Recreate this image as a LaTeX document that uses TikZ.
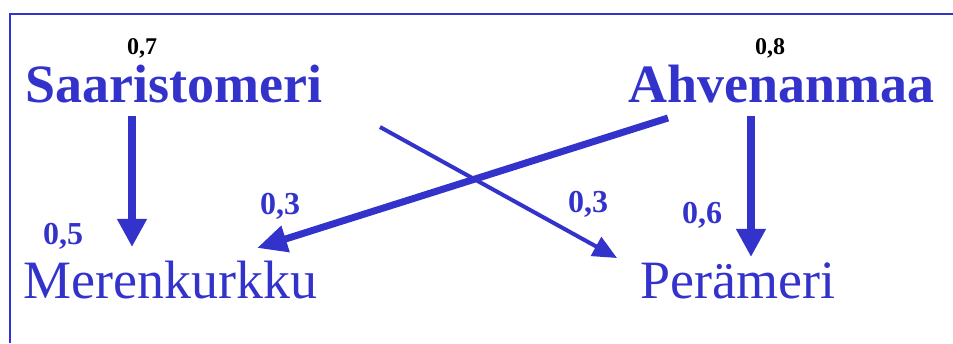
\documentclass[tikz,border=0pt]{standalone}
\usepackage{fontspec}
\setmainfont{Liberation Serif}
\usetikzlibrary{arrows.meta,calc}
\definecolor{seablue}{RGB}{51,51,204}
\tikzset{
  place/.style={inner sep=0pt, anchor=base west, text=seablue},
  bigname/.style={place, font=\fontsize{54}{60}\selectfont\bfseries},
  smallname/.style={place, font=\fontsize{54}{60}\selectfont},
  toplabel/.style={inner sep=0pt, font=\fontsize{24}{28}\selectfont\bfseries, text=black},
  flowlabel/.style={inner sep=0pt, font=\fontsize{32}{36}\selectfont\bfseries, text=seablue},
  thickflow/.style={draw=seablue, line width=8pt, -{Triangle[length=28pt,width=28pt]}, fill=seablue},
  midflow/.style={draw=seablue, line width=7pt, -{Triangle[length=30pt,width=26pt]}, fill=seablue},
  thinflow/.style={draw=seablue, line width=4pt, -{Triangle[length=24pt,width=21pt]}, fill=seablue},
  frameline/.style={draw=seablue, line width=2pt}
}
\begin{document}
\begin{tikzpicture}[x=1pt,y=1pt]
\useasboundingbox (0,0) rectangle (953,343);
\draw[frameline] (10,0) -- (10,329) -- (953,329);

\node[bigname] (saar) at (25,240) {Saaristomeri};
\node[bigname] (ahv) at (628,240) {Ahvenanmaa};
\node[smallname] (mer) at (23,45) {Merenkurkku};
\node[smallname] (per) at (640,45) {Perämeri};

\node[toplabel] (l07) at (142,295) {0,7};
\node[toplabel] (l08) at (770,295) {0,8};
\node[flowlabel] (l05) at (63,107) {0,5};
\node[flowlabel] (l03a) at (280,137) {0,3};
\node[flowlabel] (l03b) at (588,139) {0,3};
\node[flowlabel] (l06) at (702,128) {0,6};

\draw[thickflow] ($(saar.base west)+(107,-13)$) -- ($(mer.base west)+(109,51)$);
\draw[thickflow] ($(ahv.base west)+(123,-13)$) -- ($(per.base west)+(111,41)$);
\draw[midflow] ($(ahv.base west)+(40,-15)$) -- ($(mer.base west)+(234,50)$);
\draw[thinflow] ($(saar.base west)+(355,-24)$) -- ($(per.base west)+(-23,40)$);
\end{tikzpicture}
\end{document}
